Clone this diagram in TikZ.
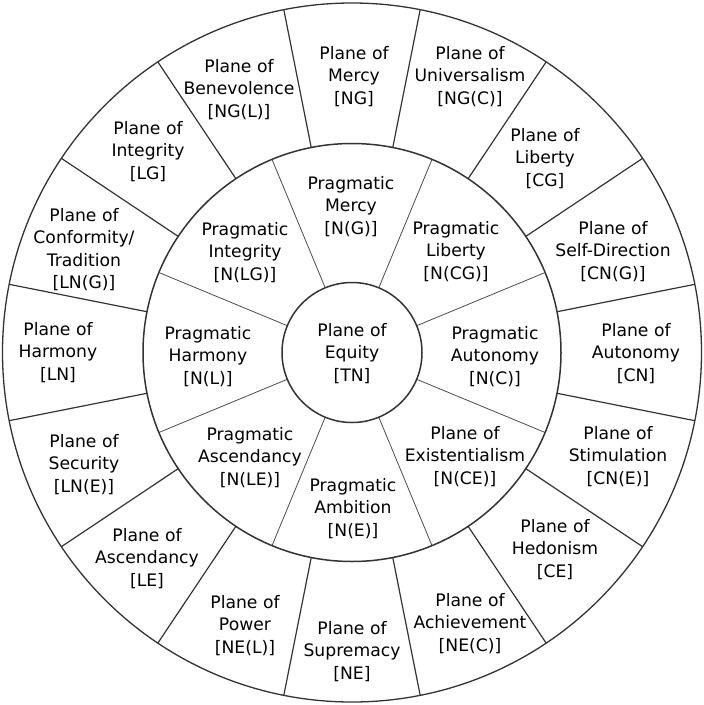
\documentclass[tikz,border=0pt]{standalone}
\usepackage{fontspec}
\setmainfont{DejaVu Sans}
\begin{document}
\begin{tikzpicture}[x=1pt,y=-1pt,
  lab/.style={align=center,inner sep=0pt,yshift=-1.5pt,font=\fontsize{17.2}{22.5}\selectfont},
  ring/.style={draw=black!80,line width=1.3pt},
  outerdiv/.style={draw=black!80,line width=1.2pt},
  innerdiv/.style={draw=black!70,line width=0.8pt}]
\useasboundingbox (0,0) rectangle (704,705);
\fill[white] (0,0) rectangle (704,705);
\coordinate (O) at (352,352.5);
% rings
\draw[ring] (O) circle[radius=349.5pt];
\draw[ring,line width=1.5pt] (O) circle[radius=209pt];
% outer dividers
\foreach \a in {11.25,33.75,56.25,78.75,101.25,123.75,146.25,168.75,191.25,213.75,236.25,258.75,281.25,303.75,326.25,348.75}
  \draw[outerdiv] ([shift={(\a:209pt)}]O) -- ([shift={(\a:349.5pt)}]O);
% inner dividers
\foreach \a in {22.5,67.5,112.5,157.5,202.5,247.5,292.5,337.5}
  \draw[innerdiv] ([shift={(\a:70pt)}]O) -- ([shift={(\a:209pt)}]O);
\node[circle,draw=black!80,line width=1.5pt,minimum size=140pt,inner sep=0pt,fill=white] (centre) at (O) {};
\node[lab] (tn) at (352,352) {Plane of\\Equity\\{[TN]}};
% middle ring
\node[lab] (m1) at (351,205) {Pragmatic\\Mercy\\{[N(G)]}};
\node[lab] (m2) at (456,250) {Pragmatic\\Liberty\\{[N(CG)]}};
\node[lab] (m3) at (495,355) {Pragmatic\\Autonomy\\{[N(C)]}};
\node[lab] (m4) at (465,455) {Plane of\\Existentialism\\{[N(CE)]}};
\node[lab] (m5) at (353,507) {Pragmatic\\Ambition\\{[N(E)]}};
\node[lab] (m6) at (250,456) {Pragmatic\\Ascendancy\\{[N(LE)]}};
\node[lab] (m7) at (208,355) {Pragmatic\\Harmony\\{[N(L)]}};
\node[lab] (m8) at (245,251) {Pragmatic\\Integrity\\{[N(LG)]}};
% outer ring
\node[lab] (o1) at (354,75) {Plane of\\Mercy\\{[NG]}};
\node[lab] (o2) at (470,75) {Plane of\\Universalism\\{[NG(C)]}};
\node[lab] (o3) at (545,157) {Plane of\\Liberty\\{[CG]}};
\node[lab] (o4) at (613,250) {Plane of\\Self-Direction\\{[CN(G)]}};
\node[lab] (o5) at (636,352) {Plane of\\Autonomy\\{[CN]}};
\node[lab] (o6) at (618,455) {Plane of\\Stimulation\\{[CN(E)]}};
\node[lab] (o7) at (555,548) {Plane of\\Hedonism\\{[CE]}};
\node[lab] (o8) at (470,622) {Plane of\\Achievement\\{[NE(C)]}};
\node[lab] (o9) at (352,650) {Plane of\\Supremacy\\{[NE]}};
\node[lab] (o10) at (245,624) {Plane of\\Power\\{[NE(L)]}};
\node[lab] (o11) at (147,557) {Plane of\\Ascendancy\\{[LE]}};
\node[lab] (o12) at (84,463) {Plane of\\Security\\{[LN(E)]}};
\node[lab] (o13) at (58,351) {Plane of\\Harmony\\{[LN]}};
\node[lab] (o14) at (84,248) {Plane of\\Conformity/\\Tradition\\{[LN(G)]}};
\node[lab] (o15) at (148,150) {Plane of\\Integrity\\{[LG]}};
\node[lab] (o16) at (239,88) {Plane of\\Benevolence\\{[NG(L)]}};
\end{tikzpicture}
\end{document}
